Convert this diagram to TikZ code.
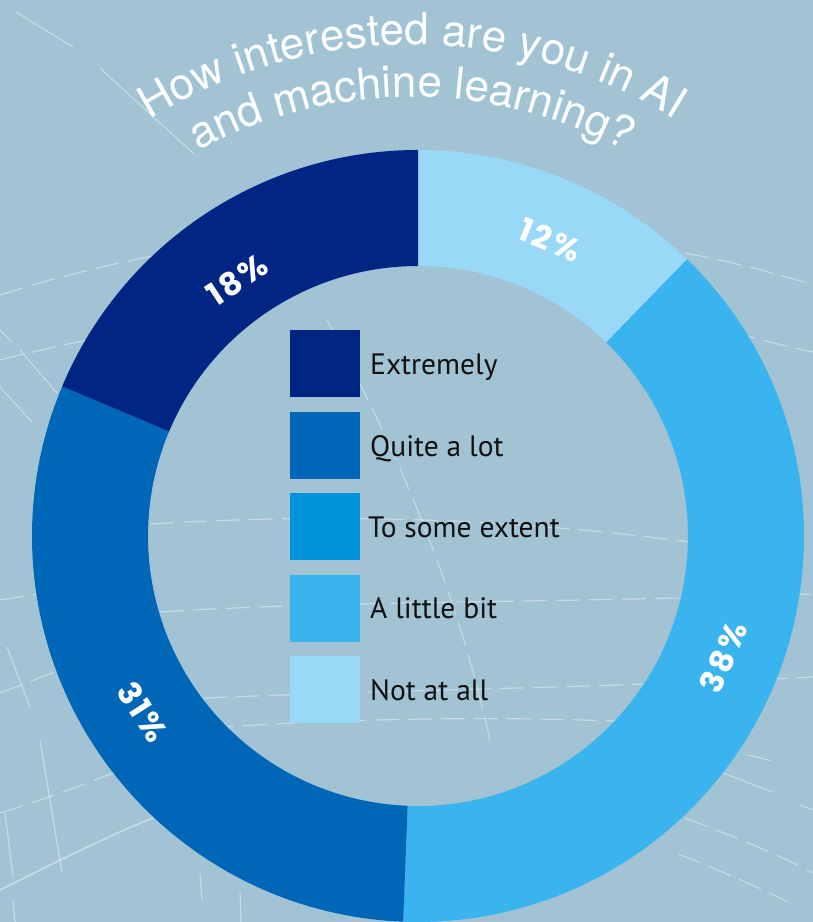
\documentclass[tikz,border=0pt]{standalone}
\usepackage{fontspec}
\setmainfont{PT Sans}
\newfontfamily\titlefont{TeX Gyre Heros}
\newfontfamily\pctfont{Poppins}[LetterSpace=8]
\usetikzlibrary{calc,decorations.text}
\definecolor{bgc}{HTML}{A1C3D3}
\definecolor{cExt}{HTML}{002583}
\definecolor{cQuite}{HTML}{0066B8}
\definecolor{cSome}{HTML}{0092DB}
\definecolor{cLittle}{HTML}{3AB4EE}
\definecolor{cNot}{HTML}{99D8F7}
\definecolor{labc}{HTML}{111111}
\newcommand\ttlfmt{\titlefont\fontsize{44}{44}\selectfont\color{white}}
\newcommand\ringseg[3]{%
  \fill[#1] ($(C)+(#2:386pt)$) arc[start angle=#2, end angle=#3, radius=386pt]
     -- ($(C)+(#3:270pt)$) arc[start angle=#3, end angle=#2, radius=270pt] -- cycle;}
\tikzset{
  bgline/.style={draw=white, opacity=0.4, line width=1.2pt},
  bgdash/.style={bgline, dash pattern=on 24pt off 9pt},
  pct/.style={text=white, font=\pctfont\bfseries\fontsize{32}{32}\selectfont, inner sep=0pt},
  swatch/.style={minimum width=70pt, minimum height=67pt, inner sep=0pt, draw=none},
  lab/.style={text=labc, font=\fontsize{29.5}{29.5}\selectfont, inner sep=0pt, anchor=base west},
}
\begin{document}
\begin{tikzpicture}[x=1pt,y=1pt]
\useasboundingbox (0,0) rectangle (813,922);
\fill[bgc] (0,0) rectangle (813,922);
% background grid lines (y-down coordinates)
\begin{scope}[shift={(0,922)}, yscale=-1]
  \draw[bgdash] (0,295) .. controls (250,215) and (560,205) .. (813,285);
  \draw[bgdash] (0,360) .. controls (120,330) and (200,320) .. (260,310);
  \draw[bgdash] (700,322) .. controls (740,335) and (780,345) .. (813,352);
  \draw[bgdash] (150,524) .. controls (350,512) and (520,520) .. (690,542);
  \draw[bgdash] (0,600) .. controls (60,590) and (110,585) .. (150,582);
  \draw[bgdash] (160,612) .. controls (350,600) and (520,604) .. (813,594);
  \draw[bgdash] (170,700) .. controls (350,690) and (550,690) .. (813,677);
  \draw[bgdash] (210,728) .. controls (350,718) and (500,716) .. (640,722);
  \draw[bgdash] (650,735) .. controls (700,745) and (740,752) .. (775,762);
  \draw[bgdash] (0,693) -- (60,670);
  \draw[bgdash] (0,813) .. controls (60,795) and (120,770) .. (160,755);
  \draw[bgline, line width=1.8pt] (0,890) .. controls (60,860) and (110,835) .. (153,818);
  \draw[bgdash] (685,818) .. controls (730,835) and (780,855) .. (813,873);
  \draw[bgdash] (678,854) .. controls (720,870) and (760,888) .. (788,902);
  \draw[bgline] (723,773) -- (772,792);
  \draw[bgline] (800,805) -- (813,810);
  \draw[bgline] (100,68) -- (195,155);
  \draw[bgline] (16,12) -- (73,47);
  \draw[bgline] (0,330) -- (12,342);
  \draw[bgline] (20,350) -- (57,393);
  \draw[bgline] (0,387) -- (32,422);
  \draw[bgline] (7,647) -- (30,707);
  \draw[bgline] (40,740) -- (62,873);
  \draw[bgline] (5,813) -- (13,877);
  \draw[bgline] (13,900) -- (15,922);
  \draw[bgline] (200,873) -- (202,900);
  \draw[bgline] (240,892) -- (241,922);
  \draw[bgdash] (327,320) .. controls (380,420) and (450,560) .. (490,740);
\end{scope}
% donut
\coordinate (C) at (418,386);
\ringseg{cNot}{90}{45.8}
\ringseg{cLittle}{45.8}{-92.2}
\ringseg{cQuite}{-92.2}{-202.8}
\ringseg{cExt}{157.2}{90}
% percentages
\node[pct, rotate=-22.1] (p12) at (550,682) {12\%};
\node[pct, rotate=66.8] (p38) at (723,265) {38\%};
\node[pct, rotate=-57.5] (p31) at (143,210) {31\%};
\node[pct, rotate=33.6] (p18) at (237,642) {18\%};
% title
\coordinate (T) at (412,377);
\path[decorate, decoration={text along path, text align=center,
  text={|\ttlfmt|How interested are you in AI}}]
  ($(T)+(133:500pt)$) arc[start angle=133, end angle=47, radius=500pt];
\path[decorate, decoration={text along path, text align=center,
  text={|\ttlfmt|and machine learning?}}]
  ($(T)+(132:448pt)$) arc[start angle=132, end angle=48, radius=448pt];
% legend
\node[swatch, fill=cExt]    (s1) at (325,558.5) {};
\node[swatch, fill=cQuite]  (s2) at (325,476.5) {};
\node[swatch, fill=cSome]   (s3) at (325,395.5) {};
\node[swatch, fill=cLittle] (s4) at (325,313.5) {};
\node[swatch, fill=cNot]    (s5) at (325,232.5) {};
\node[lab] (l1) at (370,547) {Extremely};
\node[lab] (l2) at (370,465) {Quite a lot};
\node[lab] (l3) at (368,384) {To some extent};
\node[lab] (l4) at (370,303) {A little bit};
\node[lab] (l5) at (370,221) {Not at all};
\end{tikzpicture}
\end{document}
